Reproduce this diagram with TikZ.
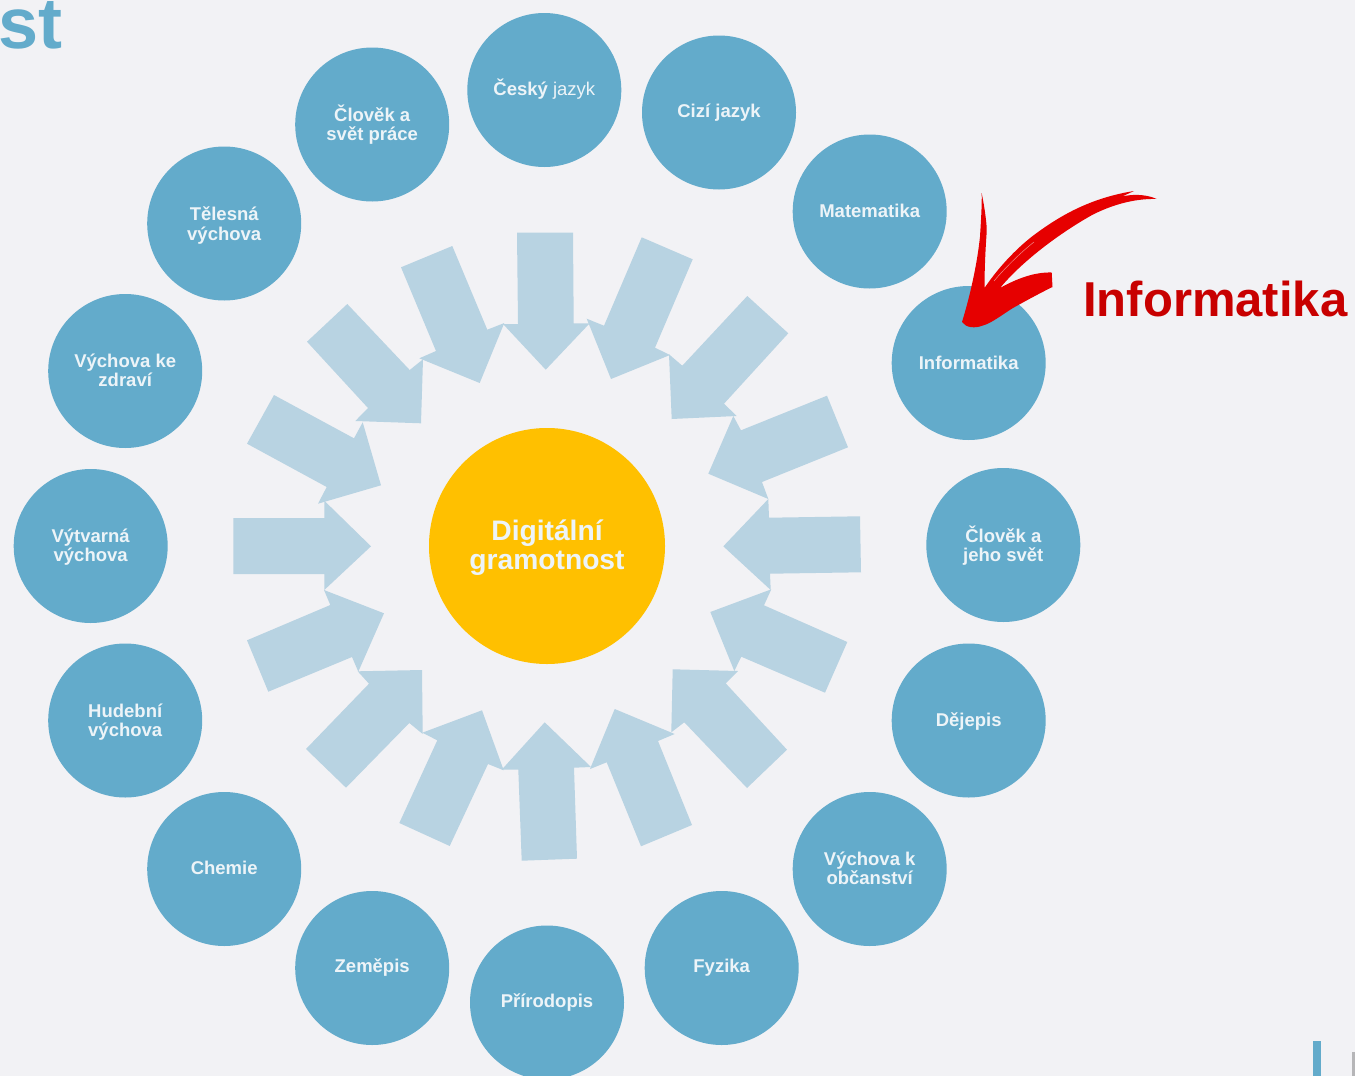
\documentclass[tikz,border=0pt]{standalone}
\usepackage{fontspec}
\setmainfont{Liberation Sans}
\definecolor{pagebg}{HTML}{F2F2F5}
\definecolor{subj}{HTML}{63ABCB}
\definecolor{ring}{HTML}{B8D3E2}
\definecolor{core}{HTML}{FFC000}
\definecolor{labeltext}{HTML}{EDF4F8}
\definecolor{brush}{HTML}{E60000}
\definecolor{brushlight}{HTML}{F08A8A}
\definecolor{bigred}{HTML}{C80000}
\tikzset{
  subject/.style={circle,fill=subj,minimum size=154pt,inner sep=0pt},
  subjtext/.style={inner sep=0pt,align=center,text=labeltext,
    font=\fontsize{18.5}{19.2}\selectfont\bfseries},
  inarrow/.style={fill=ring,draw=none},
  corenode/.style={circle,fill=core,minimum size=236pt,inner sep=0pt},
  coretext/.style={inner sep=0pt,align=center,text=labeltext,
    font=\fontsize{28.2}{29}\selectfont\bfseries},
}
\begin{document}
\begin{tikzpicture}[x=1pt,y=-1pt]
\useasboundingbox (0,0) rectangle (1355,1076);
\fill[pagebg] (0,0) rectangle (1355,1076);
\clip (0,0) rectangle (1355,1076);
% ring of arrows
\fill[inarrow] (517,232.5)--(573,232.5)--(573.7,323.3)--(589.7,323.3)--(545.7,369.7)--(503,324)--(518,324)--cycle;
\fill[inarrow] (641.7,237.3)--(692.7,259.3)--(655,347.7)--(670,355)--(611,379)--(586.7,318.7)--(604,325.7)--cycle;
\fill[inarrow] (747.3,296)--(788.3,333.3)--(724,403.7)--(736.7,416)--(671.7,419)--(669,354.3)--(682.3,365.7)--cycle;
\fill[inarrow] (827,395.7)--(848,447.3)--(762,482)--(768.3,499)--(708.3,473.7)--(733.3,416)--(741,430.3)--cycle;
\fill[inarrow] (860,516.3)--(861,572.3)--(770,573.7)--(770.7,590)--(723.3,546.3)--(768.3,499)--(769,517.7)--cycle;
\fill[inarrow] (847.3,642)--(825,692.7)--(741.3,656.7)--(734.3,671)--(710.3,612)--(771.3,589.3)--(764,605.3)--cycle;
\fill[inarrow] (787,749.7)--(747,788)--(684.3,722.3)--(671.3,732.3)--(672.7,669.3)--(738,671)--(725.7,683.3)--cycle;
\fill[inarrow] (692,825)--(641,846.3)--(606.7,762.3)--(590,769)--(614.7,709)--(674.7,734)--(658,741)--cycle;
\fill[inarrow] (577,858.7)--(521.7,860.7)--(518.3,769.7)--(501.7,769.7)--(544.7,722.3)--(591,767)--(574,767.7)--cycle;
\fill[inarrow] (449.7,846)--(399.3,823)--(437.3,740.3)--(422.3,732.7)--(482,710.3)--(503.7,770.3)--(488,764)--cycle;
\fill[inarrow] (346,787.7)--(306,749)--(369,683.7)--(357.7,671.3)--(422,670)--(422.7,734)--(409.3,723)--cycle;
\fill[inarrow] (268.3,691.7)--(247,640.3)--(330.3,605)--(324,590)--(384,613.3)--(358.3,671.7)--(352,657)--cycle;
\fill[inarrow] (233.3,574)--(233.3,518)--(324.3,518)--(324.3,500.7)--(371,546.3)--(324.3,590)--(324.3,574)--cycle;
\fill[inarrow] (247,443.7)--(274,395)--(354,438.3)--(362.7,422.3)--(381,485.3)--(318,503.7)--(326.7,487)--cycle;
\fill[inarrow] (307,341.7)--(347.3,304)--(409.7,370)--(423,359.3)--(421,423.3)--(355.3,421)--(368,408)--cycle;
\fill[inarrow] (401,267.3)--(452.3,246)--(487.3,329.7)--(504.3,323)--(479.7,383)--(419.3,358.3)--(436,351)--cycle;
% centre
\node[corenode,label={[coretext,yshift=-2pt]center:{Digitální\\gramotnost}}] (core) at (547,546) {};
% subjects
\node[subject,label={[subjtext,yshift=1pt]center:{Český {\mdseries jazyk}}}] (cesky) at (544.3,90) {};
\node[subject,label={[subjtext]center:{Cizí jazyk}}] (cizi) at (719,112.5) {};
\node[subject,label={[subjtext,yshift=1pt]center:{Matematika}}] (mat) at (869.7,211.5) {};
\node[subject,label={[subjtext]center:{Informatika}}] (inf) at (968.7,363) {};
\node[subject,label={[subjtext,yshift=-1pt]center:{Člověk a\\jeho svět}}] (clsvet) at (1003.3,545) {};
\node[subject,label={[subjtext,yshift=-1pt]center:{Dějepis}}] (dej) at (968.7,720.5) {};
\node[subject,label={[subjtext,yshift=1pt]center:{Výchova k\\občanství}}] (vko) at (869.7,869) {};
\node[subject,label={[subjtext]center:{Fyzika}}] (fyz) at (721.7,968) {};
\node[subject,label={[subjtext]center:{Přírodopis}}] (pri) at (547,1002.5) {};
\node[subject,label={[subjtext]center:{Zeměpis}}] (zem) at (372.2,968) {};
\node[subject,label={[subjtext,yshift=1.5pt]center:{Chemie}}] (che) at (224.2,869) {};
\node[subject,label={[subjtext,yshift=-2pt]center:{Hudební\\výchova}}] (hud) at (125.2,720.5) {};
\node[subject,label={[subjtext,yshift=-1.2pt]center:{Výtvarná\\výchova}}] (vyt) at (90.7,546) {};
\node[subject,label={[subjtext,yshift=1pt]center:{Výchova ke\\zdraví}}] (vkz) at (125.2,371) {};
\node[subject,label={[subjtext,yshift=-2pt]center:{Tělesná\\výchova}}] (tel) at (224.2,223.5) {};
\node[subject,label={[subjtext]center:{Člověk a\\svět práce}}] (clpr) at (372.2,124.5) {};
% red brush arrow
\fill[brush] (981.7,193) .. controls (985,210) and (987,225) .. (986.7,232)
  .. controls (985,255) and (984.5,275) .. (984.5,288)
  .. controls (1000,265) and (1020,245) .. (1036.7,233)
  .. controls (1060,216) and (1090,198) .. (1134,191)
  -- (1122,196.5) .. controls (1130,194.5) and (1145,193.5) .. (1156.7,199)
  .. controls (1140,198.5) and (1118,202) .. (1093,214.5)
  .. controls (1065,230) and (1025,258) .. (1000,288)
  .. controls (1018,278) and (1035,272) .. (1051.7,272.5)
  -- (1052.5,287)
  .. controls (1040,293) and (1020,304) .. (1013,308)
  .. controls (1003,314) and (992,323) .. (983,325.5)
  .. controls (975,328.5) and (966,328) .. (962,322)
  .. controls (970,296) and (977,265) .. (980,236.7)
  .. controls (981,220) and (982,205) .. (981.7,193) -- cycle;
\draw[brushlight,line width=0.5pt] (994,281) .. controls (1005,268) and (1020,253) .. (1034,242);
\node[text=bigred,font=\fontsize{49}{49}\selectfont\bfseries,anchor=base west,inner sep=0pt] (bigword) at (1083,316) {Informatika};
% title fragment
\node[text=subj,font=\fontsize{72}{72}\selectfont\bfseries,anchor=base west,inner sep=0pt] (titlefrag) at (-2,48) {st};
% corner marks
\fill[subj] (1313,1041) rectangle (1320.7,1076);
\fill[black!25!pagebg] (1351.7,1052) rectangle (1355,1076);
\end{tikzpicture}
\end{document}
